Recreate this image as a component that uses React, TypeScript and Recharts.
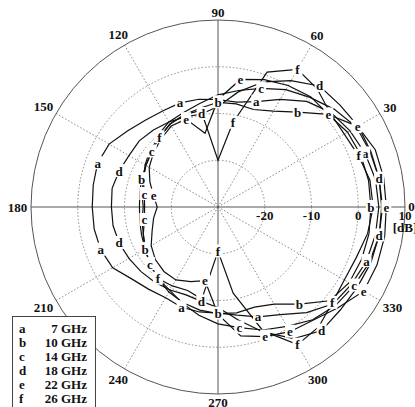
import React from "react";
import { RadarChart, Radar, PolarGrid, PolarAngleAxis, PolarRadiusAxis } from "recharts";

// measured angles in degrees, 0 = broadside right, counter-clockwise
const angles = [
  0, 10, 20, 30, 40, 50, 60, 70, 80, 90, 100, 110, 120, 130, 140, 150, 160, 170,
  180, 190, 200, 210, 220, 230, 240, 250, 260, 270, 280, 290, 300, 310, 320, 330, 340, 350,
];

// gain in dB per frequency
const ghz7 = [
  4.4, 4.2, 3.5, 2.6, 1.5, -0.5, -3.4, -6, -7.2, -7, -6.6, -6.3, -6.3, -5.8, -4.7, -3.1, -2.6, -2.9,
  -3.1, -3.1, -3.3, -4, -6, -7, -7.6, -7.2, -7.2, -7.3, -6.5, -5, -3.4, -0.5, 2.2, 3, 3.8, 4.2,
];
const ghz10 = [
  2.7, 2.7, 2.5, 2, 0.8, -3.5, -6.3, -7.8, -7.6, -7.6, -8.5, -9, -9.5, -10.5, -11.5, -12.2, -12.6, -13,
  -13.2, -13, -12.6, -12, -11, -10, -9, -8.2, -7.6, -7.2, -7, -7.2, -6, -2.9, 1.2, 2.4, 2.7, 2.8,
];
const ghz14 = [
  5, 5, 4.6, 4.2, 2.5, 0.6, -1, -3, -4.7, -6, -7.5, -8.5, -9, -10, -11.5, -12.2, -13, -14,
  -14.3, -14, -13, -12, -11, -10, -9.4, -8, -6.5, -5, -3.8, -2, -0.5, 1.5, 2.8, 3.6, 4.5, 5,
];
const ghz18 = [
  5.2, 5, 4.8, 4.6, 4, 3.8, 1.2, -1.5, -5, -8.5, -9.8, -9.5, -9, -8.5, -8, -8, -7.5, -7,
  -7.2, -7.2, -7.5, -8, -8.5, -9, -9.5, -10, -9.5, -8.5, -5.5, -1.5, 2.5, 4.5, 4.2, 4.4, 4.8, 5,
];
const ghz22 = [
  6, 6, 5.8, 4.5, 0.8, 0.8, 0, -1, -2.3, -7, -14, -10, -10, -11, -12, -13, -14.5, -16,
  -17, -16, -15, -13.5, -12.5, -12, -12, -13, -14, -7, -2, -0.5, 0.8, 1.6, 3.5, 6, 6.2, 6.2,
];
const ghz26 = [
  3.2, 3, 2, 1.2, 1.3, 3, 4, 0.7, -11.7, -20, -9, -9, -9.5, -10.5, -11, -12, -13, -13.5,
  -14, -13.5, -13, -12, -11, -10, -10.5, -11, -10, -20.5, -11.3, -1.8, 4, 3.5, 1.9, 1.2, 1.5, 2.5,
];

// where the curve letters sit (degrees)
const marksA = [70, 110, 160, 20, 200, 250, 290, 340];
const marksB = [90, 50, 160, 0, 210, 270, 310];
const marksC = [70, 30, 140, 170, 190, 220, 280, 330];
const marksD = [50, 100, 160, 10, 200, 260, 310, 350];
const marksE = [80, 40, 30, 110, 170, 0, 260, 290, 300, 330];
const marksF = [60, 80, 20, 130, 230, 270, 300, 320];

const letters = ["a", "b", "c", "d", "e", "f"];
const freqLabels = ["7 GHz", "10 GHz", "14 GHz", "18 GHz", "22 GHz", "26 GHz"];
const angleTicks = [0, 30, 60, 90, 120, 150, 180, 210, 240, 270, 300, 330];
const dbTicks = [-20, -10, 0, 10];

const valueLists = [ghz7, ghz10, ghz14, ghz18, ghz22, ghz26];
const markLists = [marksA, marksB, marksC, marksD, marksE, marksF];

const data = angles.map((angle, i) => {
  const row: any = { angle };
  letters.forEach((k, j) => {
    row[k] = valueLists[j][i];
  });
  return row;
});

const W = 415;
const H = 407;
const CX = 218;
const CY = 207;
const OUTER = 187;
const DB_MIN = -30;
const DB_MAX = 10;
const FONT = '"Liberation Serif", "Times New Roman", serif';

const rOf = (db: number) => ((db - DB_MIN) / (DB_MAX - DB_MIN)) * OUTER;

function AngleTick(props: any) {
  const deg = Number(props.payload.value);
  const text = String(deg);
  const rad = (deg * Math.PI) / 180;
  const c = Math.cos(rad);
  const s = Math.sin(rad);
  const R = OUTER + 3 + text.length * 3.5 * Math.abs(c) + 5 * Math.abs(s);
  return (
    <text
      x={CX + R * c}
      y={CY - R * s - (deg === 0 ? 1 : 0)}
      textAnchor="middle"
      dominantBaseline="central"
      fontFamily={FONT}
      fontWeight="bold"
      fontSize={13}
      fill="#111"
    >
      {text}
    </text>
  );
}

function RadiusTick(props: any) {
  const { x, y, payload } = props;
  return (
    <g>
      <text x={x} y={y + 13} textAnchor="middle" fontFamily={FONT} fontWeight="bold" fontSize={13} fill="#111">
        {payload.value}
      </text>
      {payload.value === 10 && (
        <text x={x} y={y + 25} textAnchor="middle" fontFamily={FONT} fontWeight="bold" fontSize={13} fill="#111">
          [dB]
        </text>
      )}
    </g>
  );
}

function makeDot(letter: string, marks: number[]) {
  return (props: any) => {
    const { cx, cy, index } = props;
    if (!marks.includes(angles[index])) return <g key={`n-${letter}-${index}`} />;
    return (
      <g key={`m-${letter}-${index}`}>
        <rect x={cx - 5} y={cy - 7} width={10} height={13} fill="#fff" />
        <text
          x={cx}
          y={cy}
          textAnchor="middle"
          dominantBaseline="central"
          fontFamily={FONT}
          fontWeight="bold"
          fontSize={13}
          fill="#111"
        >
          {letter}
        </text>
      </g>
    );
  };
}

export default function App() {
  return (
    <div style={{ position: "fixed", left: 0, top: 0, width: W, height: H, background: "#fff", overflow: "hidden" }}>
      <RadarChart
        width={W}
        height={H}
        data={data}
        cx={CX}
        cy={CY}
        outerRadius={OUTER}
        startAngle={0}
        endAngle={360}
        margin={{ top: 0, right: 0, bottom: 0, left: 0 }}
      >
        <PolarGrid
          gridType="circle"
          polarAngles={[30, 60, 120, 150, 210, 240, 300, 330]}
          polarRadius={[rOf(-20), rOf(-10), rOf(0)]}
          stroke="#888"
          strokeDasharray="1.5 2"
        />
        <PolarGrid gridType="circle" polarAngles={[0, 90, 180, 270]} polarRadius={[OUTER]} stroke="#555" />
        <PolarAngleAxis
          dataKey="angle"
          type="number"
          domain={[0, 360]}
          ticks={angleTicks}
          tick={<AngleTick />}
          tickLine={false}
          axisLine={false}
        />
        <PolarRadiusAxis
          angle={0}
          type="number"
          domain={[DB_MIN, DB_MAX]}
          ticks={dbTicks}
          tick={<RadiusTick />}
          tickLine={false}
          axisLine={false}
        />
        {letters.map((k, j) => (
          <Radar
            key={k}
            dataKey={k}
            stroke="#111"
            strokeWidth={1.2}
            fill="none"
            fillOpacity={0}
            dot={makeDot(k, markLists[j])}
            isAnimationActive={false}
          />
        ))}
      </RadarChart>
      <div
        style={{
          position: "absolute",
          left: 12,
          top: 316,
          width: 84,
          height: 100,
          boxSizing: "border-box",
          border: "1px solid #444",
          background: "#fff",
          padding: "5px 8px 0 6px",
          fontFamily: FONT,
          fontWeight: "bold",
          fontSize: 13,
          lineHeight: "14px",
          color: "#111",
        }}
      >
        {letters.map((k, j) => (
          <div key={k} style={{ display: "flex", justifyContent: "space-between" }}>
            <span>{k}</span>
            <span>{freqLabels[j]}</span>
          </div>
        ))}
      </div>
    </div>
  );
}
